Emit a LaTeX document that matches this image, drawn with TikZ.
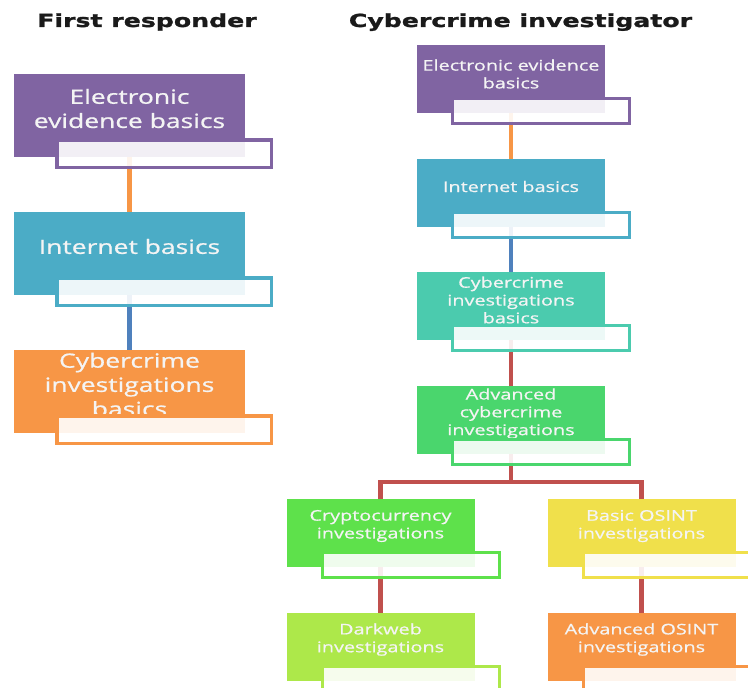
\documentclass[tikz,border=0pt]{standalone}
\usepackage{fontspec}
\setmainfont{Open Sans}
\newfontfamily\boxfont[FakeStretch=1.35,FakeBold=0.8]{Open Sans}
\newfontfamily\headfont[FakeStretch=1.4,FakeBold=1.4]{DejaVu Sans}
\usetikzlibrary{calc}

\definecolor{cpurple}{HTML}{8064A2}
\definecolor{cblue}{HTML}{4BACC6}
\definecolor{corange}{HTML}{F79646}
\definecolor{cteal}{HTML}{4BCBAE}
\definecolor{cgreen}{HTML}{4AD66D}
\definecolor{clime}{HTML}{5EE14B}
\definecolor{clight}{HTML}{ADE84A}
\definecolor{cyellow}{HTML}{F0E04B}
\definecolor{lnblue}{HTML}{4F81BD}
\definecolor{lnred}{HTML}{C0504D}
\definecolor{lnorange}{HTML}{F79646}
\definecolor{cardtext}{HTML}{F4F4F4}
\definecolor{headtext}{HTML}{1A1A1A}

\tikzset{
  lcard/.style={fill=#1, draw=none, inner sep=0pt, outer sep=0pt,
    minimum width=231pt, minimum height=83pt, anchor=north west},
  rcard/.style={fill=#1, draw=none, inner sep=0pt, outer sep=0pt,
    minimum width=188pt, minimum height=68pt, anchor=north west},
  ltab/.style={draw=#1, line width=3.5pt, fill=white, fill opacity=0.9,
    inner sep=0pt, outer sep=0pt, minimum width=214.5pt, minimum height=27.5pt,
    anchor=north west},
  rtab/.style={draw=#1, line width=3pt, fill=white, fill opacity=0.9,
    inner sep=0pt, outer sep=0pt, minimum width=177pt, minimum height=25pt,
    anchor=north west},
  ltext/.style={text=cardtext, align=center, inner sep=0pt,
    font=\boxfont\fontsize{19.6}{24.2}\selectfont},
  rtext/.style={text=cardtext, align=center, inner sep=0pt,
    font=\boxfont\fontsize{14.7}{17.8}\selectfont},
  conn/.style={draw=#1, line width=4.5pt, line cap=butt, line join=miter},
  heading/.style={text=headtext, inner sep=0pt, anchor=base,
    font=\headfont\bfseries\fontsize{18}{22}\selectfont}
}

\begin{document}
\begin{tikzpicture}[x=1pt, y=-1pt]
\path[use as bounding box, clip] (0,0) rectangle (748,688);

% column headings
\node[heading] (hfirst) at (147,27) {First responder};
\node[heading] (hcyber) at (520.5,27) {Cybercrime investigator};

% ---- left column: coloured cards ----
\node[lcard=cpurple] (L1) at (14,74) {};
\node[lcard=cblue]   (L2) at (14,212) {};
\node[lcard=corange] (L3) at (14,350) {};

% ---- right column: coloured cards ----
\node[rcard=cpurple] (R1) at (417,45) {};
\node[rcard=cblue]   (R2) at (417,158.5) {};
\node[rcard=cteal]   (R3) at (417,272) {};
\node[rcard=cgreen]  (R4) at (417,385.5) {};
\node[rcard=clime]   (C1) at (286.5,499) {};
\node[rcard=clight]  (C2) at (286.5,612.5) {};
\node[rcard=cyellow] (O1) at (547.5,499) {};
\node[rcard=corange] (O2) at (547.5,612.5) {};

% ---- card labels ----
\node[ltext] (tL1) at ($(L1.center)+(0,-7)$) {Electronic\\evidence basics};
\node[ltext] (tL2) at ($(L2.center)+(0,-7)$) {Internet basics};
\node[ltext] (tL3) at ($(L3.center)+(0,-7)$) {Cybercrime\\investigations\\basics};

\node[rtext] (tR1) at ($(R1.center)+(0,-5)$) {Electronic evidence\\basics};
\node[rtext] (tR2) at ($(R2.center)+(0,-6)$) {Internet basics};
\node[rtext] (tR3) at ($(R3.center)+(0,-6)$) {Cybercrime\\investigations\\basics};
\node[rtext] (tR4) at ($(R4.center)+(0,-6)$) {Advanced\\cybercrime\\investigations};
\node[rtext] (tC1) at ($(C1.center)+(0,-7)$) {Cryptocurrency\\investigations};
\node[rtext] (tC2) at ($(C2.center)+(0,-7)$) {Darkweb\\investigations};
\node[rtext] (tO1) at ($(O1.center)+(0,-7)$) {Basic OSINT\\investigations};
\node[rtext] (tO2) at ($(O2.center)+(0,-7)$) {Advanced OSINT\\investigations};

% ---- connectors ----
\draw[conn=lnorange] (L1.south) -- (L2.north);
\draw[conn=lnblue]   (L2.south) -- (L3.north);

\draw[conn=lnorange] (R1.south) -- (R2.north);
\draw[conn=lnblue]   (R2.south) -- (R3.north);
\draw[conn=lnred]    (R3.south) -- (R4.north);
\coordinate (fork) at ($(R4.south)+(0,28.5)$);
\draw[conn=lnred] (R4.south) -- (fork);
\draw[conn=lnred] (C1.north) |- (fork) -| (O1.north);
\draw[conn=lnred] (C1.south) -- (C2.north);
\draw[conn=lnred] (O1.south) -- (O2.north);

% ---- white tabs overlapping each card ----
\node[ltab=cpurple] (wL1) at ($(L1.north west)+(42.75,65.75)$) {};
\node[ltab=cblue]   (wL2) at ($(L2.north west)+(42.75,65.75)$) {};
\node[ltab=corange] (wL3) at ($(L3.north west)+(42.75,65.75)$) {};

\node[rtab=cpurple] (wR1) at ($(R1.north west)+(35.5,53.5)$) {};
\node[rtab=cblue]   (wR2) at ($(R2.north west)+(35.5,53.5)$) {};
\node[rtab=cteal]   (wR3) at ($(R3.north west)+(35.5,53.5)$) {};
\node[rtab=cgreen]  (wR4) at ($(R4.north west)+(35.5,53.5)$) {};
\node[rtab=clime]   (wC1) at ($(C1.north west)+(35.5,53.5)$) {};
\node[rtab=clight]  (wC2) at ($(C2.north west)+(35.5,53.5)$) {};
\node[rtab=cyellow] (wO1) at ($(O1.north west)+(35.5,53.5)$) {};
\node[rtab=corange] (wO2) at ($(O2.north west)+(35.5,53.5)$) {};
\end{tikzpicture}
\end{document}
